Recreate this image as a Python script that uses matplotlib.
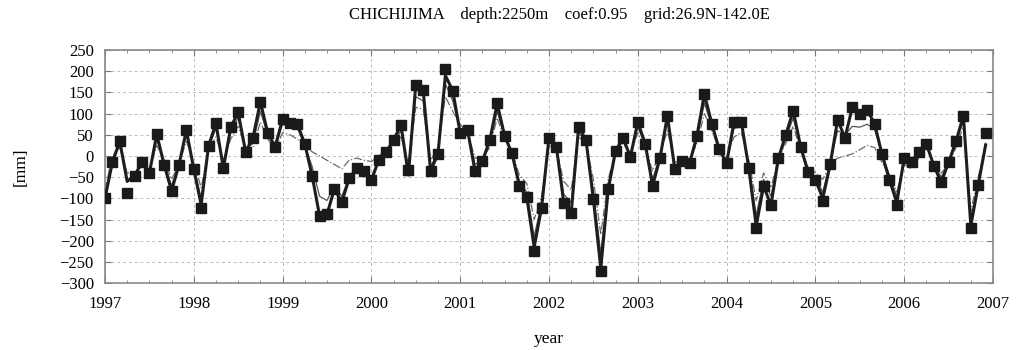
import matplotlib
matplotlib.use("Agg")
import matplotlib.pyplot as plt
import numpy as np
from matplotlib.ticker import MultipleLocator

# monthly time axis 1997.0 .. 2006.917
years = np.arange(1997, 2007)
months = np.arange(12) / 12.0

# observed (squares)
obs = [
    -100, -15, 35, -87, -46, -15, -41, 51, -21, -82, -21, 61,
    -31, -123, 24, 77, -29, 68, 103, 10, 43, 128, 54, 22,
    87, 77, 75, 29, -47, -141, -138, -78, -109, -53, -29, -35,
    -57, -9, 9, 38, 73, -33, 168, 155, -35, 5, 205, 154,
    54, 61, -35, -12, 37, 124, 48, 6, -70, -97, -224, -122,
    43, 22, -111, -135, 68, 38, -102, -271, -79, 12, 43, -2,
    80, 29, -70, -5, 95, -31, -11, -17, 48, 146, 76, 16,
    -17, 80, 80, -29, -171, -71, -116, -5, 50, 107, 22, -37,
    -56, -106, -20, 85, 43, 116, 98, 109, 76, 4, -56, -116,
    -5, -13, 10, 29, -23, -62, -15, 35, 95, -171, -68, 54,
]

# thick line
model_a = [
    -100, -15, 35, -60, -46, -15, -41, 51, -21, -82, -21, 61,
    -31, -115, 24, 77, -29, 68, 103, 10, 43, 128, 54, 22,
    87, 77, 75, 29, -47, -141, -138, -78, -109, -53, -29, -35,
    -57, -9, 9, 38, 73, -45, 168, 155, -35, 5, 190, 154,
    54, 61, -35, -12, 37, 124, 48, 6, -70, -97, -215, -122,
    43, 22, -111, -135, 68, 38, -102, -265, -79, 12, 43, -2,
    80, 29, -70, -5, 95, -31, -11, -17, 48, 146, 76, 16,
    -17, 80, 80, -29, -165, -71, -116, -5, 50, 107, 22, -37,
    -56, -100, -20, 85, 43, 116, 98, 109, 76, 4, -56, -110,
    -5, -13, 10, 29, -23, -62, -15, 35, 95, -165, -68, 26,
]

# thin solid line
model_b = [
    -95, -10, 30, -60, -45, -20, -35, 40, -15, -70, -20, 50,
    -25, -100, 20, 65, -20, 55, 90, 15, 30, 105, 50, 20,
    75, 70, 65, 25, -25, -95, -105, -70, -95, -50, -30, -35,
    -50, -10, 10, 30, 60, -25, 140, 130, -25, 10, 170, 130,
    60, 55, -20, -10, 30, 105, 45, 5, -60, -85, -190, -110,
    35, 20, -90, -110, 55, 35, -85, -230, -70, 10, 35, 0,
    70, 25, -55, 0, 80, -25, -10, -15, 40, 125, 70, 15,
    -10, 65, 70, -20, -140, -55, -95, -5, 40, 90, 20, -30,
    -50, -85, -15, 60, 50, 70, 68, 75, 62, 5, -45, -95,
    -10, -20, 5, 25, -20, -50, -15, 30, 85, -150, -60, 30,
]

# dash-dot line
model_c = [
    -80, 0, 20, -40, -40, -25, -30, 25, -10, -55, -20, 35,
    -15, -75, 15, 45, -10, 40, 70, 20, 20, 80, 40, 15,
    55, 50, 40, 25, 10, 0, -10, -20, -30, -10, -5, -10,
    -13, 0, 15, 30, 45, -15, 115, 110, -10, 20, 140, 105,
    75, 55, -5, -5, 20, 90, 40, 10, -45, -65, -150, -95,
    25, 15, -60, -80, 45, 30, -55, -185, -55, 10, 30, 5,
    55, 20, -35, 5, 60, -15, -10, -10, 30, 100, 60, 15,
    0, 45, 55, -10, -105, -40, -75, -5, 30, 70, 15, -25,
    -40, -55, -20, -5, 0, 5, 15, 25, 20, -15, -45, -85,
    -20, -30, -5, 20, -15, -40, -20, 20, 70, -130, -50, 20,
]

t = (years[:, None] + months[None, :]).ravel()

plt.rcParams['font.family'] = ['Liberation Serif', 'DejaVu Serif']

fig = plt.figure(figsize=(10.19, 3.5), dpi=100)
ax = fig.add_axes([0.103, 0.191, 0.8715, 0.666])

ax.plot(t, model_c, color='#6a6a6a', lw=0.9, ls='-.', zorder=2)
ax.plot(t, model_b, color='#555555', lw=0.9, ls='-', zorder=3)
ax.plot(t, model_a, color='#1e1e1e', lw=2.2, zorder=4)
ax.plot(t, obs, ls='none', marker='s', ms=7.3, color='#1a1a1a', zorder=5)

ax.set_xlim(1997, 2007)
ax.set_ylim(-300, 250)
ax.xaxis.set_major_locator(MultipleLocator(1))
ax.xaxis.set_minor_locator(MultipleLocator(0.25))
ax.yaxis.set_major_locator(MultipleLocator(50))
ax.grid(True, which='major', color='#bbbbbb', ls=(0, (3, 3)), lw=0.7)
ax.tick_params(which='both', direction='in', top=True, right=True,
               color='#777777', labelsize=12)
ax.tick_params(which='major', length=4)
ax.tick_params(which='minor', length=2.5)
ax.tick_params(axis='x', pad=9)
ax.tick_params(axis='y', pad=8)
for sp in ax.spines.values():
    sp.set_color('#888888')
    sp.set_linewidth(1.2)

ax.set_xlabel('year', fontsize=12.5, labelpad=14)
ax.set_ylabel('[mm]', fontsize=12.5, labelpad=22)

fig.text(559 / 1019, 1 - 15 / 350,
         'CHICHIJIMA    depth:2250m    coef:0.95    grid:26.9N-142.0E',
         ha='center', va='center', fontsize=12)

fig.savefig('out.png', dpi=100)
